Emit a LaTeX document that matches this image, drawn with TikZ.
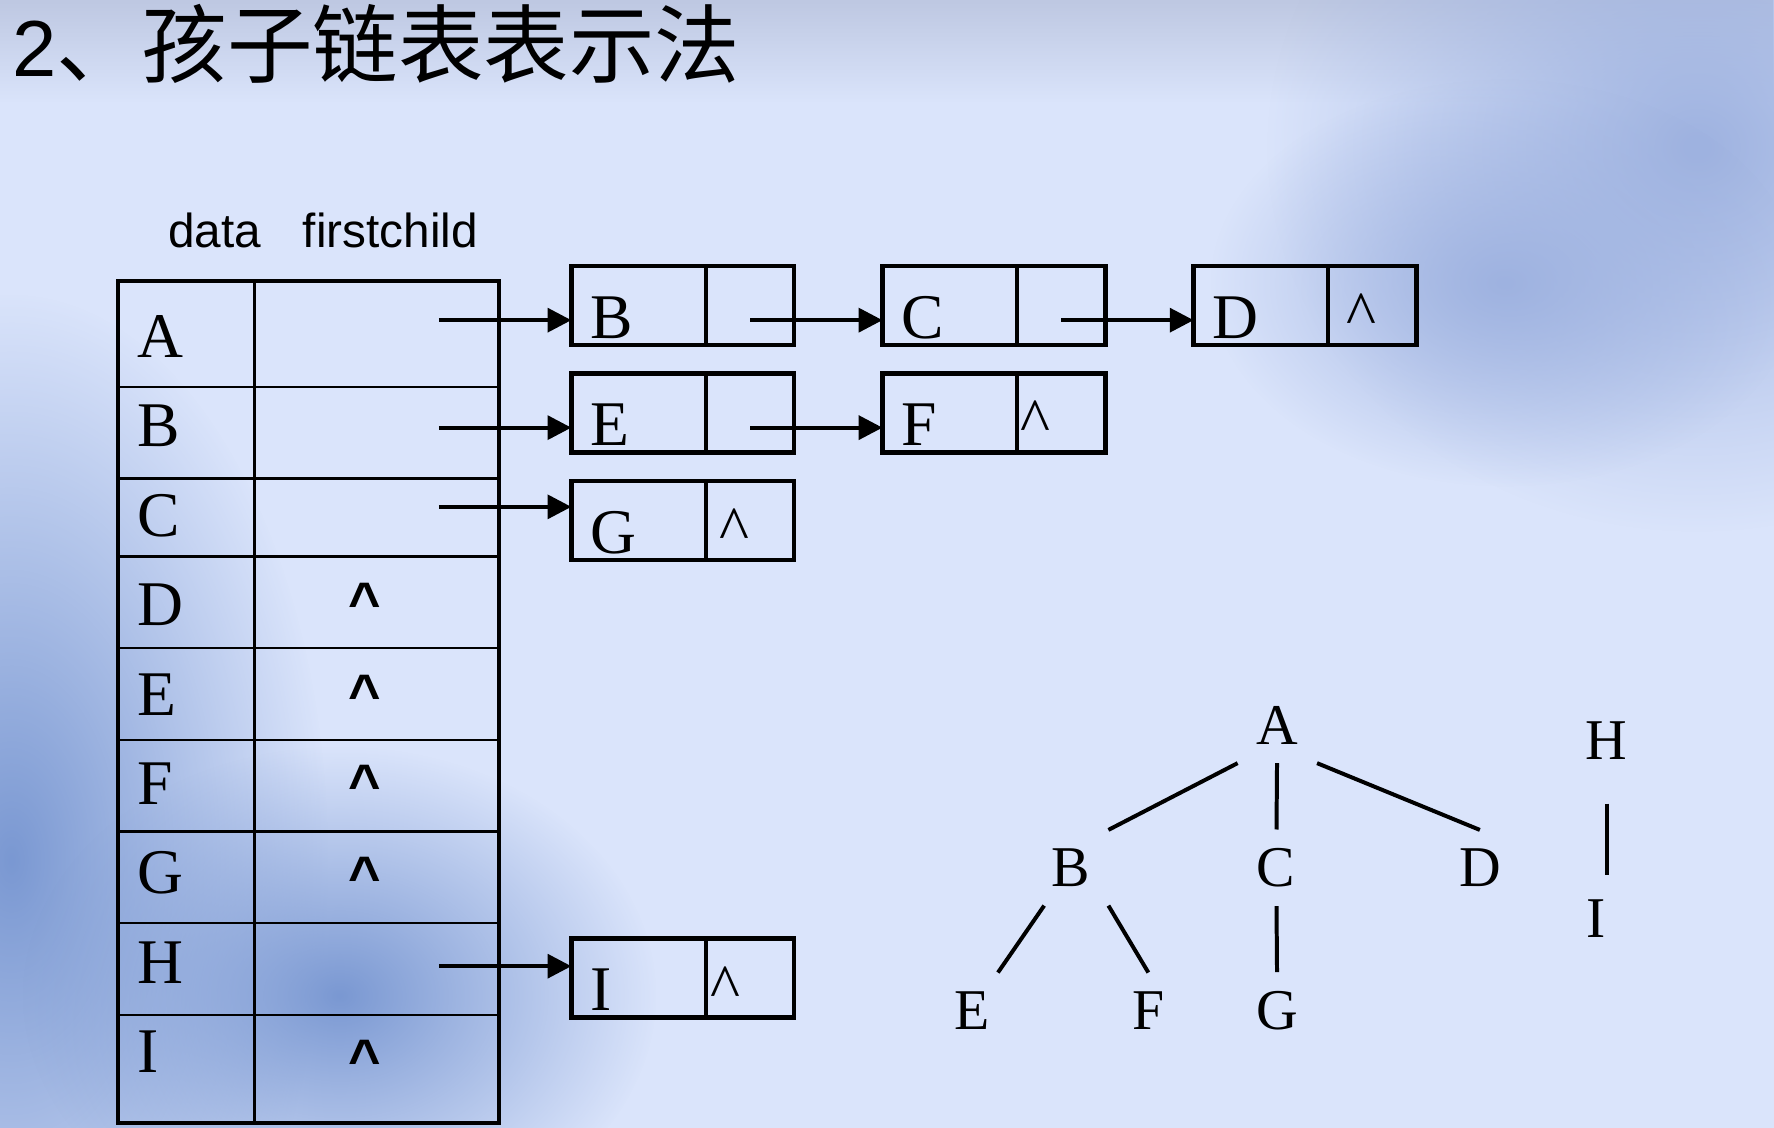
\documentclass[tikz,border=0pt]{standalone}
\usepackage{fontspec}
\setmainfont{Liberation Serif}
\setsansfont{Liberation Sans}
\newfontfamily\cjk{Noto Sans CJK SC}
\usetikzlibrary{arrows.meta,positioning,fadings}
\definecolor{slidebg}{RGB}{218,228,251}
\definecolor{shadeblue}{RGB}{122,152,210}
\definecolor{mistblue}{RGB}{158,178,224}
\definecolor{topgray}{RGB}{190,200,226}
\tikzfading[name=topfade, top color=transparent!0, bottom color=transparent!100]
\tikzfading[name=blobfade, inner color=transparent!0, outer color=transparent!100]

\tikzset{
  frame/.style={line width=1pt},
  rule/.style={line width=0.6pt},
  cell/.style={draw, line width=1.1pt, inner sep=0pt, outer sep=0pt, minimum height=0.70cm},
  datacell/.style={cell, minimum width=1.19cm},
  ptrcell/.style={cell, minimum width=0.78cm},
  letter/.style={inner sep=0pt, font=\fontsize{16}{16}\selectfont},
  nullmark/.style={inner sep=0pt, anchor=north west, font=\fontsize{16}{16}\selectfont},
  tabnull/.style={inner sep=0pt, anchor=north, font=\sffamily\bfseries\fontsize{14}{14}\selectfont},
  header/.style={inner sep=0pt, anchor=base west, font=\sffamily\fontsize{12}{12}\selectfont},
  link/.style={-{Triangle[length=0.21cm,width=0.21cm]}, line width=1pt},
  vertex/.style={inner sep=0.16cm, font=\fontsize{14.5}{14.5}\selectfont},
  branch/.style={line width=1pt}
}

\begin{document}
\begin{tikzpicture}
\useasboundingbox (0,0) rectangle (15.68,-9.97);
% slide background
\fill[slidebg] (0,0) rectangle (15.68,-9.97);
\fill[topgray, path fading=topfade] (0,0) rectangle (15.68,-0.9);
\fill[shadeblue, path fading=blobfade] (0.1,-7.6) ellipse (2.8 and 5.0);
\fill[shadeblue, path fading=blobfade] (3.0,-8.8) ellipse (2.8 and 2.2);
\fill[mistblue, path fading=blobfade] (15.0,-1.3) ellipse (3.8 and 3.4);
\fill[mistblue, path fading=blobfade] (13.3,-2.5) ellipse (2.6 and 1.8);

\node[anchor=base west, inner sep=0pt, font=\sffamily\fontsize{20}{20}\selectfont] (title) at (0.10,-0.68) {2{\cjk\fontsize{21.5}{21.5}\selectfont 、孩子链表表示法}};

% header table
\node[header] (hdata) at (1.48,-2.19) {data};
\node[header] (hchild) at (2.67,-2.19) {firstchild};
\draw[frame] (1.04,-2.48) rectangle (4.41,-9.93);
\draw[rule] (2.25,-2.48) -- (2.25,-9.93);
\foreach \y in {3.42,4.23,4.92,5.73,6.54,7.35,8.16,8.97} {
\draw[rule] (1.04,-\y) -- (4.41,-\y);
}
\foreach \n [count=\k from 0] in {A,B,C,D,E,F,G,H,I} {
\node[letter, anchor=base west] (t\n) at (1.21,{-3.16-0.79*\k}) {\n};
}
\foreach \n/\y in {D/5.15,E/5.96,F/6.76,G/7.57,I/9.19} {
\node[tabnull] (u\n) at (3.22,-\y) {\textasciicircum};
}

% child lists
\node[datacell] (nB) at (5.645,-2.70) {};
\node[ptrcell, right=0pt of nB] (pB) {};
\node[datacell, right=0.78cm of pB] (nC) {};
\node[ptrcell, right=0pt of nC] (pC) {};
\node[datacell, right=0.78cm of pC] (nD) {};
\node[ptrcell, right=0pt of nD] (pD) {};
\node[datacell] (nE) at (5.645,-3.65) {};
\node[ptrcell, right=0pt of nE] (pE) {};
\node[datacell, right=0.78cm of pE] (nF) {};
\node[ptrcell, right=0pt of nF] (pF) {};
\node[datacell] (nG) at (5.645,-4.60) {};
\node[ptrcell, right=0pt of nG] (pG) {};
\node[datacell] (nI) at (5.645,-8.645) {};
\node[ptrcell, right=0pt of nI] (pI) {};

\foreach \n in {B,C,D,E,F,G,I} {
\node[letter, anchor=base west] (l\n) at ([shift={(0.16,0.06)}]n\n.south west) {\n};
}
\foreach \n/\dx in {D/0.15,F/0.02,G/0.11,I/0.03} {
\node[nullmark] (q\n) at ([shift={(\dx,-0.24)}]p\n.north west) {\textasciicircum};
}

\coordinate (sA) at (3.88,-2.83);
\coordinate (sB) at (3.88,-3.78);
\coordinate (sC) at (3.88,-4.48);
\coordinate (sH) at (3.88,-8.54);
\draw[link] (sA) -- (sA -| nB.west);
\draw[link] (sB) -- (sB -| nE.west);
\draw[link] (sC) -- (sC -| nG.west);
\draw[link] (sH) -- (sH -| nI.west);
\draw[link] (pB |- sA) -- (sA -| nC.west);
\draw[link] (pC |- sA) -- (sA -| nD.west);
\draw[link] (pE |- sB) -- (sB -| nF.west);

% the tree
\node[vertex] (A) at (11.29,-6.41) {A};
\node[vertex] (B) at (9.46,-7.67) {B};
\node[vertex] (C) at (11.28,-7.67) {C};
\node[vertex] (D) at (13.08,-7.67) {D};
\node[vertex] (E) at (8.59,-8.93) {E};
\node[vertex] (F) at (10.15,-8.93) {F};
\node[vertex] (G) at (11.29,-8.93) {G};
\node[vertex] (H) at (14.20,-6.55) {H};
\node[vertex] (I) at (14.11,-8.12) {I};

\draw[branch] (A.south west) -- (B.north east);
\draw[branch] (A) -- (C);
\draw[branch] (A.south east) -- (D.north);
\draw[branch] (B) -- (E);
\draw[branch] (B.south east) -- (F.north);
\draw[branch] (C) -- (G);
\draw[branch, shorten <=0.22cm, shorten >=0.39cm] (H) -- (H |- I);

\end{tikzpicture}
\end{document}
